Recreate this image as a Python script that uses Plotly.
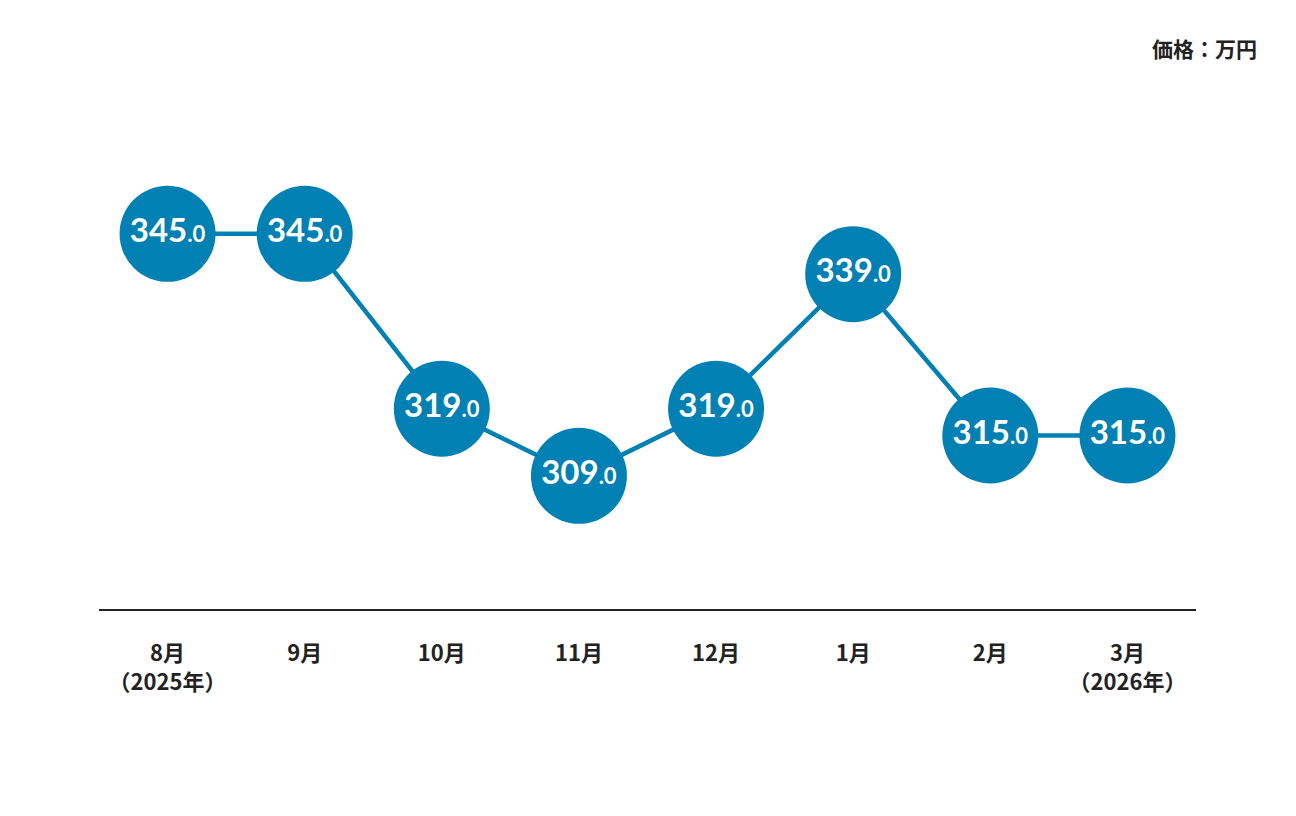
import plotly.graph_objects as go

months = ['8月', '9月', '10月', '11月', '12月', '1月', '2月', '3月']
years = ['（2025年）', '', '', '', '', '', '', '（2026年）']
prices = [345.0, 345.0, 319.0, 309.0, 319.0, 339.0, 315.0, 315.0]

BLUE = '#0080b3'
DARK = '#222222'

tick_text = [m + ('<br>' + y if y else '') for m, y in zip(months, years)]
point_text = [f"{int(p)}<span style='font-size:22px'>.{int(round(p * 10)) % 10}</span>" for p in prices]

fig = go.Figure()
fig.add_trace(go.Scatter(
    x=list(range(len(months))), y=prices,
    mode='lines+markers+text',
    line=dict(color=BLUE, width=4.5),
    marker=dict(size=96, color=BLUE, line=dict(width=0)),
    text=point_text,
    textposition='middle center',
    textfont=dict(family='Lato', size=33, color='white', weight='bold'),
    hoverinfo='skip',
    showlegend=False))

fig.add_annotation(text='価格：万円', xref='paper', yref='paper', x=1.057, y=1.102,
                   xanchor='right', yanchor='middle', showarrow=False,
                   font=dict(family='Noto Sans CJK JP', size=21, color=DARK, weight='bold'))

fig.update_xaxes(range=[-0.5, 7.5], tickvals=list(range(len(months))), ticktext=tick_text,
                 showgrid=False, zeroline=False, showline=True, linecolor=DARK, linewidth=2,
                 ticks='', ticklabelstandoff=24,
                 tickfont=dict(family='Noto Sans CJK JP', size=22, color=DARK, weight='bold'))
fig.update_yaxes(range=[289.2, 364.9], visible=False, showgrid=False, zeroline=False)

# the page body adds an 8px offset, so the margins are shifted to compensate
fig.update_layout(
    width=1296, height=816,
    margin=dict(l=91, r=108, t=92, b=215),
    plot_bgcolor='white', paper_bgcolor='white')

fig.write_html('out.html')
